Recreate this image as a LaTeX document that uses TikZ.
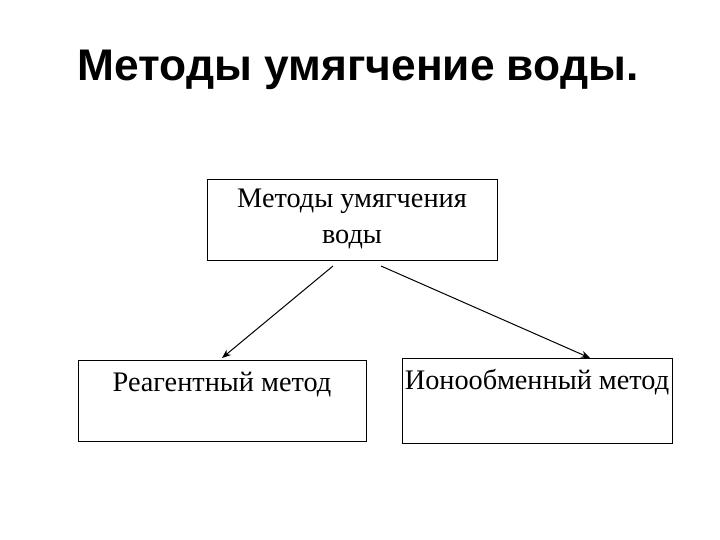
\documentclass[tikz,border=0pt]{standalone}
\usepackage{fontspec}
\setmainfont{Liberation Serif}
\newfontfamily\titlefont{Liberation Sans}
\usetikzlibrary{arrows.meta}
\begin{document}
\begin{tikzpicture}[x=1pt,y=-1pt,
  box/.style={draw,line width=1pt,inner sep=0pt},
  lbl/.style={font=\fontsize{28.3}{36}\selectfont,align=center},
  arr/.style={-{Stealth[length=9pt,width=7pt]},line width=1pt}]
\useasboundingbox (0,0) rectangle (720,540);
\node[font=\titlefont\bfseries\fontsize{44.3}{48}\selectfont] (title) at (358,70) {Методы умягчение воды.};
\draw[box] (207,180) rectangle (497,260);
\node[lbl] (top) at (352,219) {Методы умягчения\\воды};
\draw[box] (78,360) rectangle (366,441);
\node[lbl] (left) at (222,385) {Реагентный метод};
\draw[box] (402,358) rectangle (672,443);
\node[lbl] (right) at (537,382) {Ионообменный метод};
\coordinate (a1) at (333,266); \coordinate (a2) at (222,358);
\coordinate (b1) at (381,266); \coordinate (b2) at (590,358);
\draw[arr] (a1) -- (a2);
\draw[arr] (b1) -- (b2);
\end{tikzpicture}
\end{document}
